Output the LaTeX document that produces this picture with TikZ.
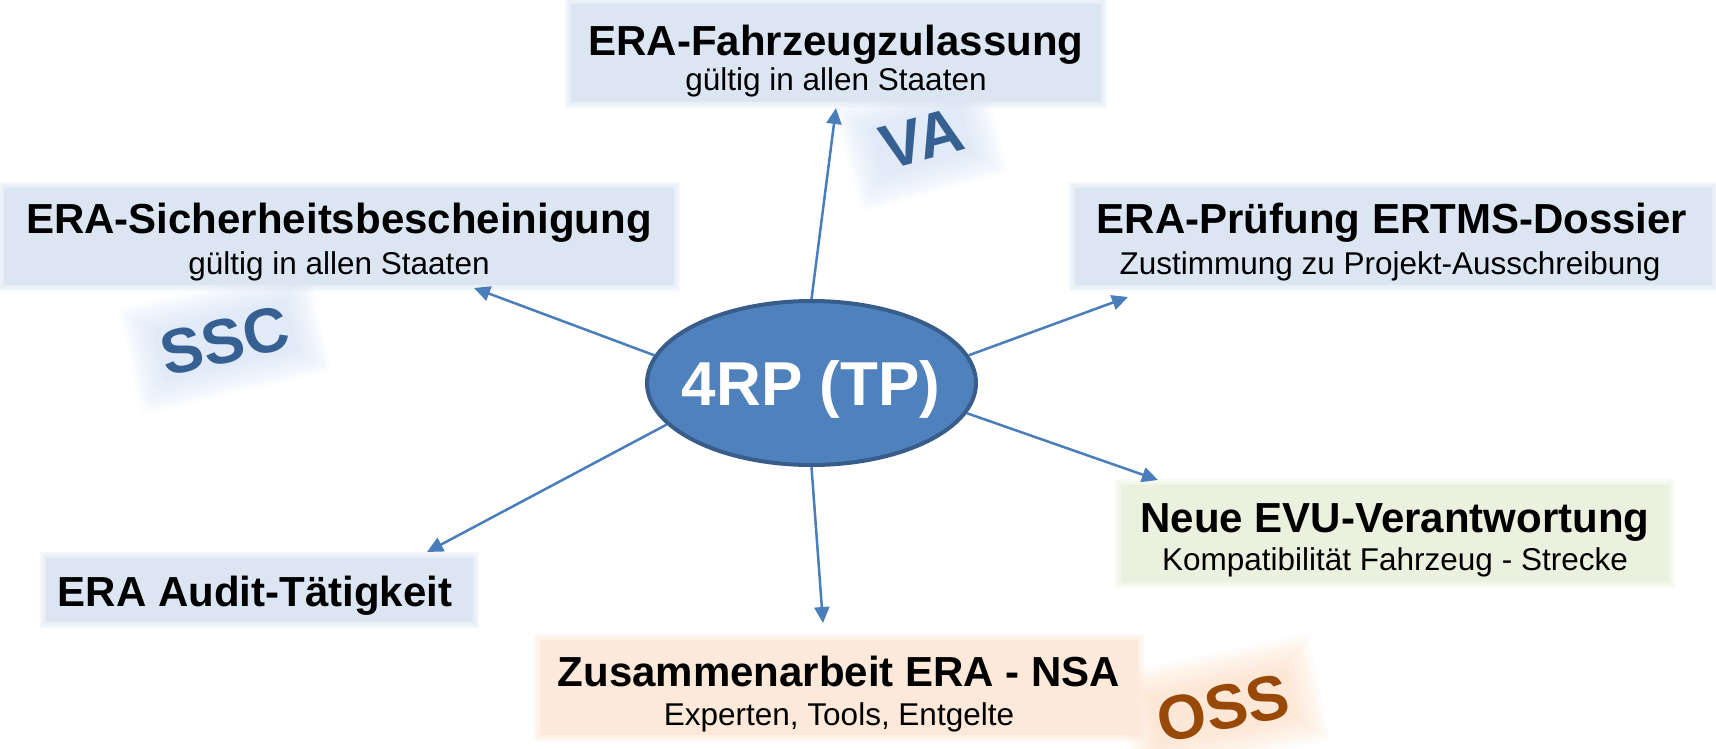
\documentclass[tikz,border=0pt]{standalone}
\usepackage{fontspec}
\setmainfont{Liberation Sans}
\usetikzlibrary{arrows.meta,shapes.geometric}
\definecolor{boxblue}{HTML}{DCE6F2}
\definecolor{boxgreen}{HTML}{EBF1DE}
\definecolor{boxorange}{HTML}{FDE9D9}
\definecolor{ellfill}{HTML}{4F81BD}
\definecolor{elldraw}{HTML}{385D8A}
\definecolor{arrowblue}{HTML}{4A7EBB}
\definecolor{labblue}{HTML}{376092}
\definecolor{laborange}{HTML}{984807}
\definecolor{glowblue}{HTML}{C6D9F1}
\definecolor{gloworange}{HTML}{FBD4B4}
\tikzset{
  titletxt/.style={anchor=base, font=\bfseries\fontsize{42}{48}\selectfont, inner sep=0pt},
  subtxt/.style={anchor=base, font=\fontsize{31.5}{36}\selectfont, inner sep=0pt},
  link/.style={draw=arrowblue, line width=2.5pt, -{Triangle[length=16pt,width=15pt]}},
  tagtxt/.style={font=\bfseries\fontsize{63}{68}\selectfont, inner sep=0pt},
}
\newcommand{\softbox}[6]{%
  \foreach \g in {6,4,2} {\fill[#6, opacity=0.3] (#2-\g,#3-\g) rectangle (#4+\g,#5+\g);}
  \node[name=#1, fill=#6, inner sep=0pt, minimum width={(#4-#2)*1pt}, minimum height={(#5-#3)*1pt}]
    at ({(#2+#4)/2},{(#3+#5)/2}) {};%
}
\newcommand{\glowrect}[6]{% x, y, angle, half width, half height, colour
  \begin{scope}[shift={(#1,#2)}, rotate=#3]
    \foreach \s in {32,28,24,20,16,12,8,4} {\fill[#6, opacity=0.09, rounded corners=4pt] (-#4-\s,-#5-\s) rectangle (#4+\s,#5+\s);}
  \end{scope}%
}
\begin{document}
\begin{tikzpicture}[x=1pt,y=-1pt]
\useasboundingbox (0,0) rectangle (1716,748);
% glows behind tags
\glowrect{921}{140}{15}{44}{22}{glowblue}
\glowrect{225}{340}{13}{65}{22}{glowblue}
\glowrect{1222}{707}{12}{67}{22}{gloworange}
% boxes
\softbox{b1}{571}{4}{1101}{102}{boxblue}
\node[titletxt] (b1t) at (836,55) {ERA-Fahrzeugzulassung};
\node[subtxt] (b1s) at (836,90) {gültig in allen Staaten};
\softbox{b2}{4}{188}{674}{285}{boxblue}
\node[titletxt] (b2t) at (339,233) {ERA-Sicherheitsbescheinigung};
\node[subtxt] (b2s) at (339,274) {gültig in allen Staaten};
\softbox{b3}{1075}{188}{1712}{285}{boxblue}
\node[titletxt] (b3t) at (1392,233) {ERA-Prüfung ERTMS-Dossier};
\node[subtxt] (b3s) at (1390,274) {Zustimmung zu Projekt-Ausschreibung};
\softbox{b4}{1121}{485}{1669}{582}{boxgreen}
\node[titletxt] (b4t) at (1395,532) {Neue EVU-Verantwortung};
\node[subtxt] (b4s) at (1395,570) {Kompatibilität Fahrzeug - Strecke};
\softbox{b5}{46}{558}{473}{622}{boxblue}
\node[titletxt] (b5t) at (255,606) {ERA Audit-Tätigkeit};
\softbox{b6}{540}{640}{1138}{735}{boxorange}
\node[titletxt] (b6t) at (839,686) {Zusammenarbeit ERA - NSA};
\node[subtxt] (b6s) at (839,725) {Experten, Tools, Entgelte};
% centre ellipse
\node[ellipse, draw=elldraw, line width=4pt, fill=ellfill, minimum width=329pt, minimum height=164pt, inner sep=0pt] (c) at (811.5,383) {};
\node[anchor=base, inner sep=0pt, text=white, font=\bfseries\fontsize{62}{70}\selectfont] (ct) at (811,405) {4RP (TP)};
% arrow tips
\coordinate (t1) at (836,108);
\coordinate (t2) at (474,288);
\coordinate (t3) at (1128,297);
\coordinate (t4) at (1158,480);
\coordinate (t5) at (427,552);
\coordinate (t6) at (823,623);
\draw[link] (c.90) -- (t1);
\draw[link] (c.170) -- (t2);
\draw[link] (c.10.5) -- (t3);
\draw[link] (c.349) -- (t4);
\draw[link] (c.196) -- (t5);
\draw[link] (c.270) -- (t6);
% tags
\node[tagtxt, rotate=15, text=labblue] (va) at (922,139) {VA};
\node[tagtxt, rotate=13, text=labblue] (ssc) at (225,341) {SSC};
\node[tagtxt, rotate=12, text=laborange] (oss) at (1223,708) {OSS};
\end{tikzpicture}
\end{document}
